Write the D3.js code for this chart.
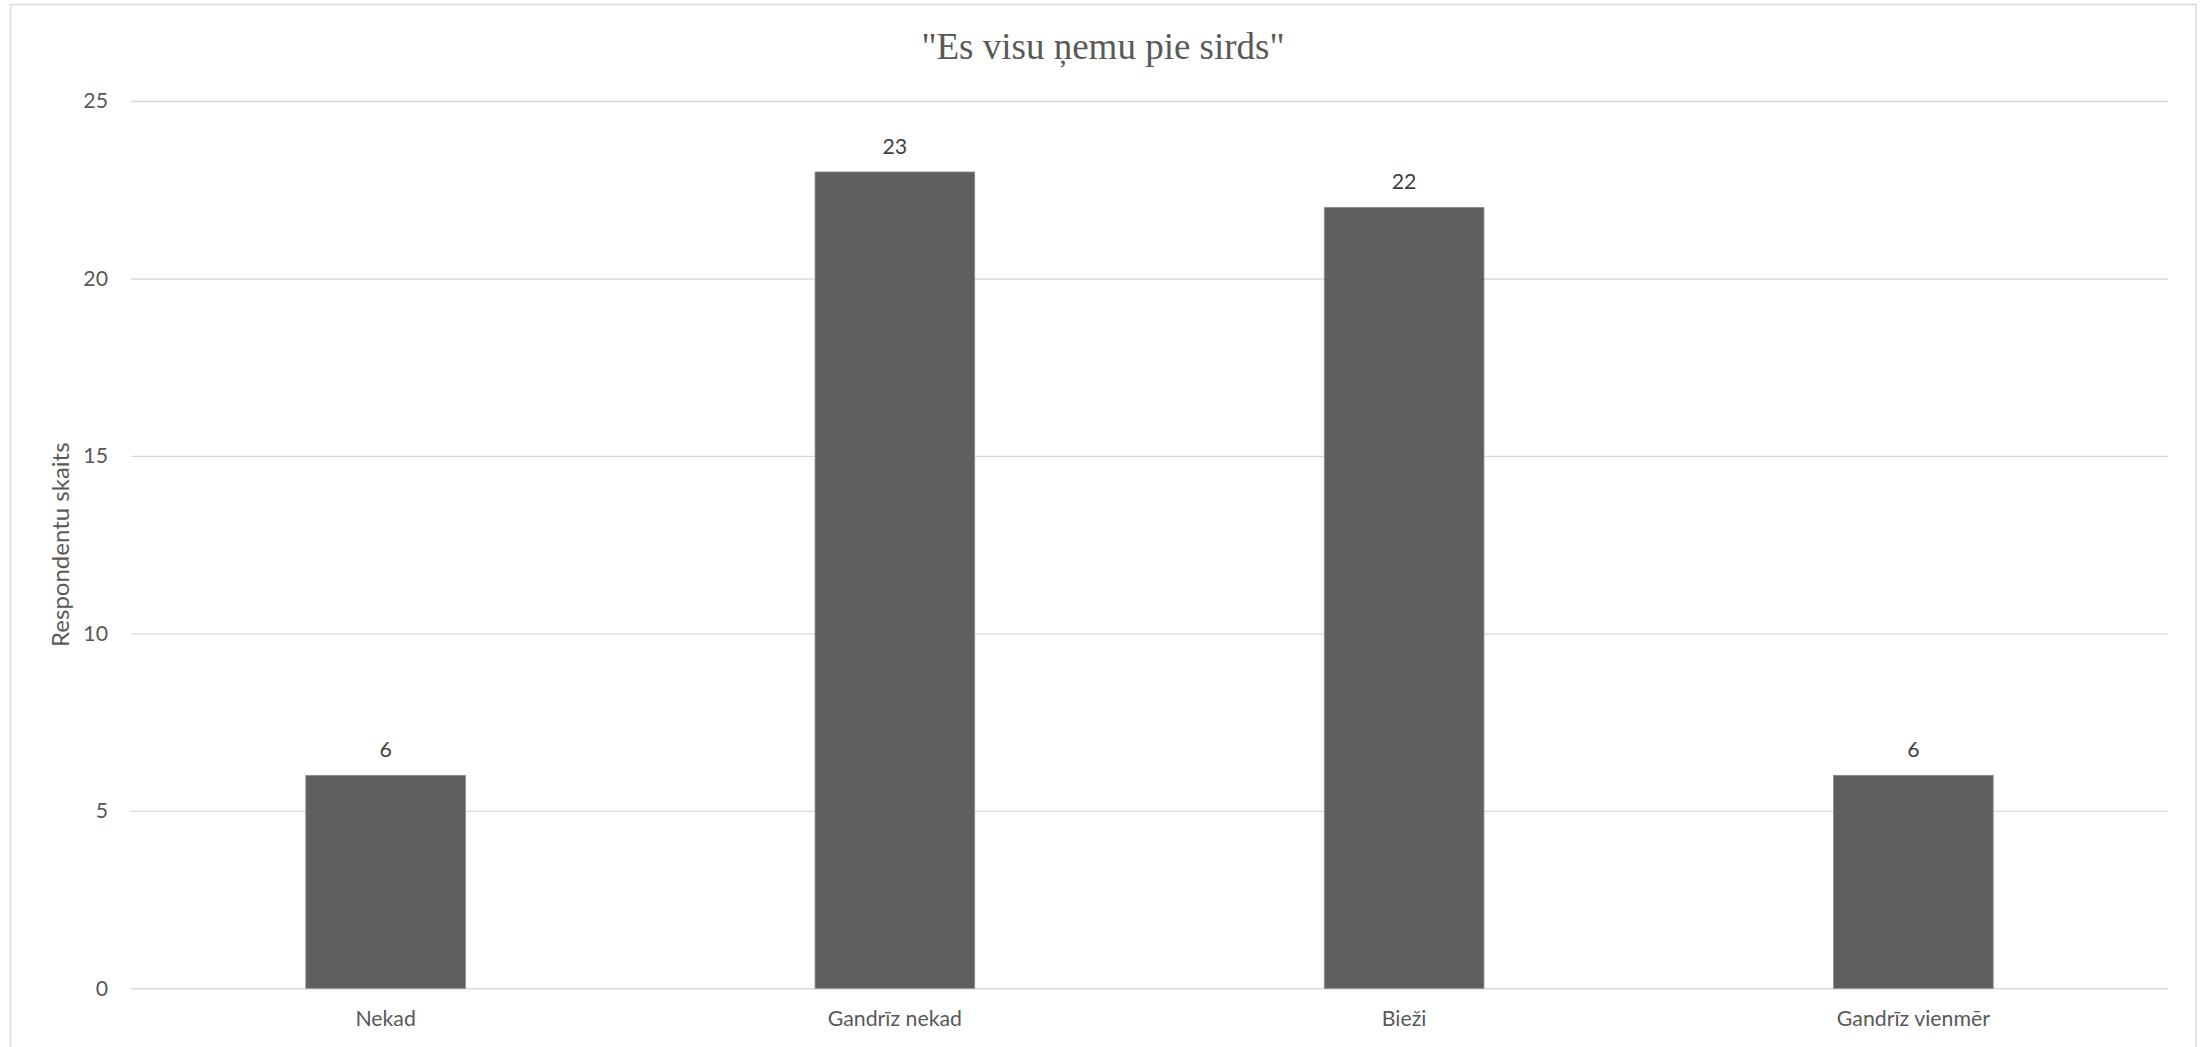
<!DOCTYPE html>
<html>
<head>
<meta charset="utf-8">
<script src="https://cdn.jsdelivr.net/npm/d3@7"></script>
<style>
  html, body { margin: 0; padding: 0; background: #ffffff; }
  svg { display: block; }
</style>
</head>
<body>
<svg id="chart" width="2202" height="1047"></svg>
<script>
// Survey answers: how often respondents "take everything to heart"
const categories = ["Nekad", "Gandrīz nekad", "Bieži", "Gandrīz vienmēr"];
const respondents = [6, 23, 22, 6];
const yTicks = [0, 5, 10, 15, 20, 25];

const chartTitle = "\"Es visu ņemu pie sirds\"";
const yAxisTitle = "Respondentu skaits";

const W = 2202, H = 1047;
const plot = { left: 131, right: 2168, top: 101, bottom: 988.3 };
const labelFont = "Lato, 'Open Sans', sans-serif";
const gridColor = "#d9d9d9";
const textColor = "#595959";
const barColor = "#5f5f5f";

const svg = d3.select("#chart");

// chart area frame
svg.append("rect")
  .attr("x", 10.5).attr("y", 4.5)
  .attr("width", 2196 - 10.5).attr("height", H + 10)
  .attr("fill", "#ffffff")
  .attr("stroke", gridColor).attr("stroke-width", 1.4);

// scales: bars take ~31% of each category slot
const gap = 0.6865;
const x = d3.scaleBand()
  .domain(categories)
  .range([plot.left, plot.right])
  .paddingInner(gap)
  .paddingOuter(gap / 2);

const y = d3.scaleLinear()
  .domain([0, 25])
  .range([plot.bottom, plot.top]);

// horizontal gridlines with value labels
const yAxis = d3.axisLeft(y)
  .tickValues(yTicks)
  .tickSize(-(plot.right - plot.left))
  .tickPadding(23)
  .tickFormat(d3.format("d"));

const gy = svg.append("g")
  .attr("transform", `translate(${plot.left},0)`)
  .call(yAxis);
gy.select(".domain").remove();
gy.selectAll(".tick line")
  .attr("stroke", gridColor).attr("stroke-width", 1.4);
gy.selectAll(".tick text")
  .attr("fill", textColor)
  .style("font-family", labelFont)
  .style("font-size", "21.3px");

// category axis labels
const xAxis = d3.axisBottom(x).tickSize(0).tickPadding(23);
const gx = svg.append("g")
  .attr("transform", `translate(0,${plot.bottom})`)
  .call(xAxis);
gx.select(".domain").remove();
gx.selectAll(".tick text")
  .attr("fill", textColor)
  .style("font-family", labelFont)
  .style("font-size", "21.3px");

// bars
const data = categories.map((c, i) => ({ category: c, value: respondents[i] }));
svg.append("g").selectAll("rect")
  .data(data)
  .join("rect")
  .attr("x", d => x(d.category))
  .attr("y", d => y(d.value))
  .attr("width", x.bandwidth())
  .attr("height", d => y(0) - y(d.value))
  .attr("fill", barColor)
  .attr("stroke", "#8a8a8a")
  .attr("stroke-width", 0.8);

// value labels above bars
svg.append("g").selectAll("text")
  .data(data)
  .join("text")
  .attr("x", d => x(d.category) + x.bandwidth() / 2)
  .attr("y", d => y(d.value) - 18.4)
  .attr("text-anchor", "middle")
  .attr("fill", "#404040")
  .style("font-family", labelFont)
  .style("font-size", "21.3px")
  .text(d => d.value);

// chart title
svg.append("text")
  .attr("x", 1103)
  .attr("y", 59.3)
  .attr("text-anchor", "middle")
  .attr("fill", textColor)
  .style("font-family", "'Liberation Serif', 'Times New Roman', serif")
  .style("font-size", "37px")
  .text(chartTitle);

// y axis title
svg.append("text")
  .attr("transform", `translate(69.3,${(plot.top + plot.bottom) / 2}) rotate(-90)`)
  .attr("text-anchor", "middle")
  .attr("fill", textColor)
  .style("font-family", labelFont)
  .style("font-size", "24px")
  .text(yAxisTitle);
</script>
</body>
</html>
